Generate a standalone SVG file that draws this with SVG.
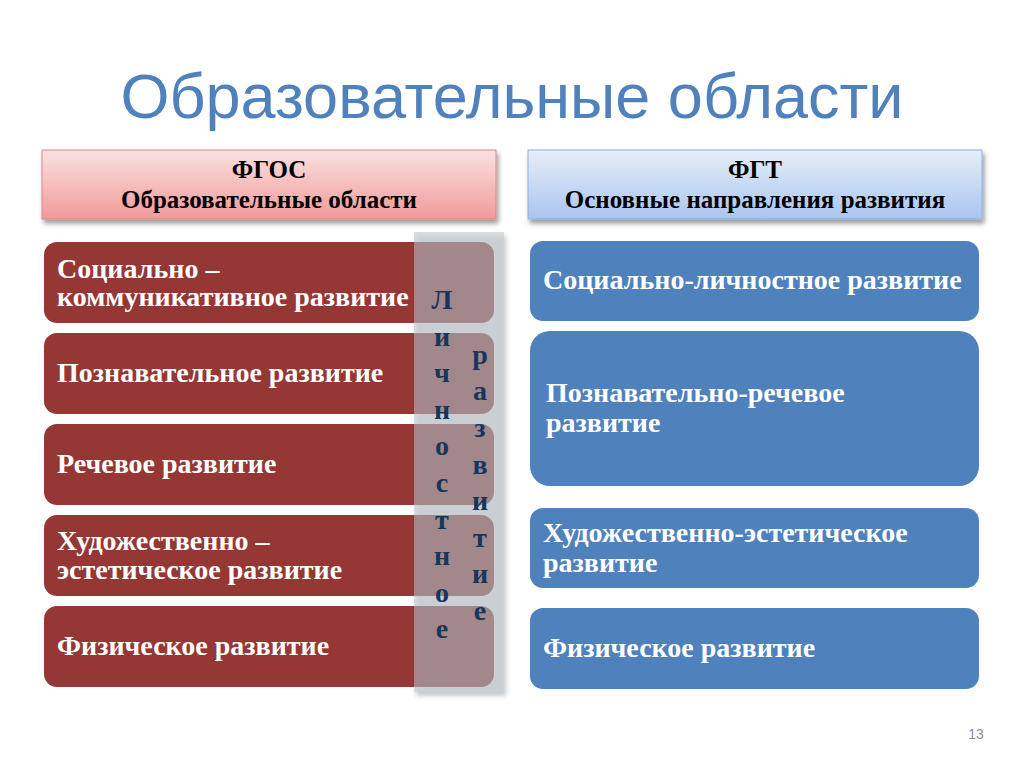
<svg xmlns="http://www.w3.org/2000/svg" width="1024" height="768" viewBox="0 0 1024 768">
<defs>
<linearGradient id="gPink" x1="0" y1="0" x2="0" y2="1">
<stop offset="0" stop-color="#fbe1e1"/>
<stop offset="1" stop-color="#f19a99"/>
</linearGradient>
<linearGradient id="gBlue" x1="0" y1="0" x2="0" y2="1">
<stop offset="0" stop-color="#e6eefa"/>
<stop offset="1" stop-color="#a9c5ef"/>
</linearGradient>
<filter id="sh" x="-10%" y="-10%" width="120%" height="130%">
<feGaussianBlur in="SourceAlpha" stdDeviation="2.5"/>
<feOffset dx="2" dy="4" result="b"/>
<feComponentTransfer><feFuncA type="linear" slope="0.4"/></feComponentTransfer>
<feMerge><feMergeNode/><feMergeNode in="SourceGraphic"/></feMerge>
</filter>
</defs>
<style>
.title{font-family:"Liberation Sans",Arial,sans-serif;font-size:63px;fill:#4f81bd;}
.hd{font-family:"Liberation Serif","Times New Roman",serif;font-weight:bold;font-size:25px;fill:#000;}
.red{fill:#953735;}
.blue{fill:#4f81bd;}
.t{font-family:"Liberation Serif","Times New Roman",serif;font-weight:bold;font-size:28px;fill:#fff;}
.v{font-family:"Liberation Serif","Times New Roman",serif;font-weight:bold;font-size:28px;fill:#17365d;text-anchor:middle;}
.pg{font-family:"Liberation Sans",Arial,sans-serif;font-size:14px;fill:#8c8c8c;}
</style>
<rect width="1024" height="768" fill="#fff"/>
<text class="title" x="512" y="118" text-anchor="middle">Образовательные области</text>

<g id="hdr-fgos">
<rect x="42" y="150" width="454" height="69" fill="url(#gPink)" stroke="#d88a88" stroke-width="1" filter="url(#sh)"/>
<text class="hd" x="269" y="178" text-anchor="middle">ФГОС</text>
<text class="hd" x="269" y="208" text-anchor="middle">Образовательные области</text>
</g>
<g id="hdr-fgt">
<rect x="528" y="150" width="454" height="69" fill="url(#gBlue)" stroke="#8eaee0" stroke-width="1" filter="url(#sh)"/>
<text class="hd" x="755" y="178" text-anchor="middle">ФГТ</text>
<text class="hd" x="755" y="208" text-anchor="middle">Основные направления развития</text>
</g>

<g id="l1"><rect class="red" x="44" y="242" width="450" height="81" rx="13"/>
<text class="t" x="57" y="278">Социально –</text><text class="t" x="57" y="306">коммуникативное развитие</text></g>
<g id="l2"><rect class="red" x="44" y="333" width="450" height="81" rx="13"/>
<text class="t" x="57" y="382">Познавательное развитие</text></g>
<g id="l3"><rect class="red" x="44" y="424" width="450" height="81" rx="13"/>
<text class="t" x="57" y="473">Речевое развитие</text></g>
<g id="l4"><rect class="red" x="44" y="515" width="450" height="81" rx="13"/>
<text class="t" x="57" y="550">Художественно –</text><text class="t" x="57" y="579">эстетическое развитие</text></g>
<g id="l5"><rect class="red" x="44" y="606" width="450" height="81" rx="13"/>
<text class="t" x="57" y="655">Физическое развитие</text></g>

<g id="strip">
<rect x="414" y="232" width="90" height="460" fill="#b8c3c9" fill-opacity="0.55" filter="url(#sh)"/>
<text class="v" x="442" y="309">Л</text>
<text class="v" x="442" y="346">и</text>
<text class="v" x="442" y="382">ч</text>
<text class="v" x="442" y="419">н</text>
<text class="v" x="442" y="455">о</text>
<text class="v" x="442" y="492">с</text>
<text class="v" x="442" y="529">т</text>
<text class="v" x="442" y="565">н</text>
<text class="v" x="442" y="602">о</text>
<text class="v" x="442" y="638">е</text>
<text class="v" x="480" y="364">р</text>
<text class="v" x="480" y="400">а</text>
<text class="v" x="480" y="437">з</text>
<text class="v" x="480" y="474">в</text>
<text class="v" x="480" y="510">и</text>
<text class="v" x="480" y="547">т</text>
<text class="v" x="480" y="583">и</text>
<text class="v" x="480" y="620">е</text>
</g>

<g id="r1"><rect class="blue" x="530" y="241" width="449" height="80" rx="13"/>
<text class="t" x="543" y="289">Социально-личностное развитие</text></g>
<g id="r2"><rect class="blue" x="530" y="331" width="449" height="155" rx="20"/>
<text class="t" x="546" y="402">Познавательно-речевое</text><text class="t" x="546" y="432">развитие</text></g>
<g id="r3"><rect class="blue" x="530" y="508" width="449" height="80" rx="13"/>
<text class="t" x="543" y="542">Художественно-эстетическое</text><text class="t" x="543" y="572">развитие</text></g>
<g id="r4"><rect class="blue" x="530" y="608" width="449" height="81" rx="13"/>
<text class="t" x="543" y="657">Физическое развитие</text></g>

<text class="pg" x="976" y="739" text-anchor="middle">13</text>
</svg>
